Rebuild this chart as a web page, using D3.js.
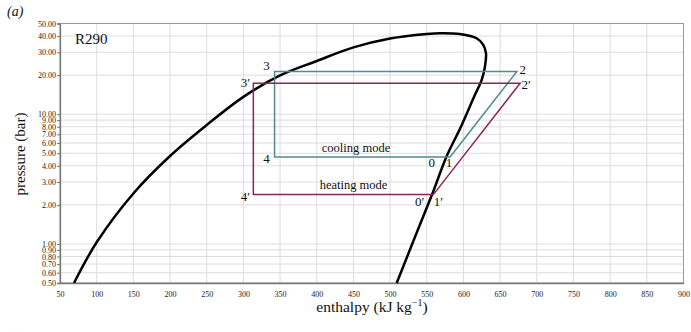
<!DOCTYPE html>
<html><head><meta charset="utf-8">
<script src="https://cdn.jsdelivr.net/npm/d3@7"></script>
<style>
body{margin:0;background:#fff;}
svg{display:block;font-family:"Liberation Serif","Times New Roman",serif;}
</style></head>
<body><svg id="c" width="691" height="332"></svg>
<script>
// saturation dome (enthalpy kJ/kg, pressure bar), liquid side -> critical -> vapour side
const domeH = [69.1, 100, 150, 200, 250, 300, 350, 400, 450, 500, 550, 568, 595.2, 618, 627, 630.7, 629.3, 624.8, 615.7, 596.6, 576.8, 557.9, 534.2, 509];
const domeP = [0.5, 1.03, 2.45, 4.76, 8.25, 13.6, 19.9, 25.7, 32.7, 38.3, 41.5, 42.1, 41.5, 38.5, 34.2, 29.5, 23.2, 18.3, 14.1, 8.01, 4.70, 2.46, 1.14, 0.5];
// cycles: points 3,2,1,4 (cooling) and 3',2',1',4' (heating)
const coolH = [342.5, 672.8, 581.8, 342.5];
const coolP = [21.3, 21.3, 4.68, 4.68];
const heatH = [313.6, 677.3, 559, 313.6];
const heatP = [17.35, 17.35, 2.40, 2.40];
const xTicks = d3.range(50, 901, 50);
const yTicks = [0.5,0.6,0.7,0.8,0.9,1,2,3,4,5,6,7,8,9,10,20,30,40,50];

const svg = d3.select("#c");
const L = 60, R = 683.5, T = 23.5, B = 283;
const x = d3.scaleLinear().domain([50, 900]).range([L, R]);
const y = d3.scaleLog().domain([0.5, 50]).range([B, T]);

// grid
svg.append("g").selectAll("line").data(xTicks).join("line")
  .attr("x1", d => x(d)).attr("x2", d => x(d)).attr("y1", T).attr("y2", B)
  .attr("stroke", "#dcdcdc").attr("stroke-width", 1);
svg.append("g").selectAll("line").data(yTicks).join("line")
  .attr("x1", L).attr("x2", R).attr("y1", d => y(d)).attr("y2", d => y(d))
  .attr("stroke", "#dcdcdc").attr("stroke-width", 1);
// frame
svg.append("rect").attr("x", L).attr("y", T).attr("width", R - L).attr("height", B - T)
  .attr("fill", "none").attr("stroke", "#9a9a9a").attr("stroke-width", 1);

// axes
const xa = svg.append("g").attr("transform", `translate(0,${B})`)
  .call(d3.axisBottom(x).tickValues(xTicks).tickSize(0).tickPadding(8).tickFormat(d3.format("d")));
const ya = svg.append("g").attr("transform", `translate(${L},0)`)
  .call(d3.axisLeft(y).tickValues(yTicks).tickSize(3).tickPadding(1).tickFormat(d3.format(".2f")));
[xa, ya].forEach(a => {
  a.select(".domain").attr("stroke", "#777").attr("stroke-width", 1.3);
  a.selectAll(".tick line").attr("stroke", "#777");
  a.selectAll("text").attr("font-family", "Liberation Serif, serif").attr("font-size", 8).attr("fill", "#222");
});

// dome
const dome = domeH.map((h, i) => [h, domeP[i]]);
svg.append("path").datum(dome)
  .attr("d", d3.line().x(d => x(d[0])).y(d => y(d[1])).curve(d3.curveCatmullRom.alpha(0.5)))
  .attr("fill", "none").attr("stroke", "#000").attr("stroke-width", 2.5);

// cycles
const cyc = (H, P) => H.map((h, i) => [h, P[i]]);
const ln = d3.line().x(d => x(d[0])).y(d => y(d[1])).curve(d3.curveLinearClosed);
svg.append("path").datum(cyc(coolH, coolP)).attr("d", ln)
  .attr("fill", "none").attr("stroke", "#4e8d8d").attr("stroke-width", 1.5);
svg.append("path").datum(cyc(heatH, heatP)).attr("d", ln)
  .attr("fill", "none").attr("stroke", "#8a2459").attr("stroke-width", 1.5);

// labels
const lab = (t, px, py, opts = {}) => svg.append("text").attr("x", px).attr("y", py)
  .attr("font-size", opts.size || 13).attr("text-anchor", opts.anchor || "middle")
  .attr("font-style", opts.style || "normal").attr("fill", "#111").text(t);

lab("3", x(coolH[0]) - 8, y(coolP[0]) - 1.5);
lab("2", x(coolH[1]) + 6, y(coolP[1]) + 2.5);
lab("4", x(coolH[3]) - 8, y(coolP[3]) + 6);
lab("1", x(coolH[2]) - 1, y(coolP[2]) + 10.5);
lab("0", x(574) - 12.5, y(coolP[2]) + 10.5);
lab("3\u2032", x(heatH[0]) - 8, y(heatP[0]) + 3.5);
lab("2\u2032", x(heatH[1]) + 6, y(heatP[1]) + 6);
lab("4\u2032", x(heatH[3]) - 8, y(heatP[3]) + 6.5);
lab("1\u2032", x(heatH[2]) + 5, y(heatP[2]) + 11.5);
lab("0\u2032", x(551.3) - 8, y(heatP[2]) + 11.5);
lab("cooling mode", 356, 151.5, {size: 12.5});
lab("heating mode", 353.5, 188.5, {size: 12.5});
lab("R290", 75, 44, {size: 15, anchor: "start"});

// axis titles
const xt = svg.append("text").attr("x", 372).attr("y", 311.5).attr("text-anchor", "middle")
  .attr("font-size", 15.5).attr("fill", "#111");
xt.append("tspan").text("enthalpy (kJ kg");
xt.append("tspan").attr("font-size", 10).attr("dy", -6).text("\u22121");
xt.append("tspan").attr("dy", 6).text(")");
svg.append("text").attr("transform", "translate(25,154) rotate(-90)").attr("text-anchor", "middle")
  .attr("font-size", 15).attr("fill", "#111").text("pressure (bar)");

lab("(a)", 7, 16, {size: 14, anchor: "start", style: "italic"});
lab("(b)", 7, 342, {size: 14, anchor: "start", style: "italic"});
</script>
</body></html>
